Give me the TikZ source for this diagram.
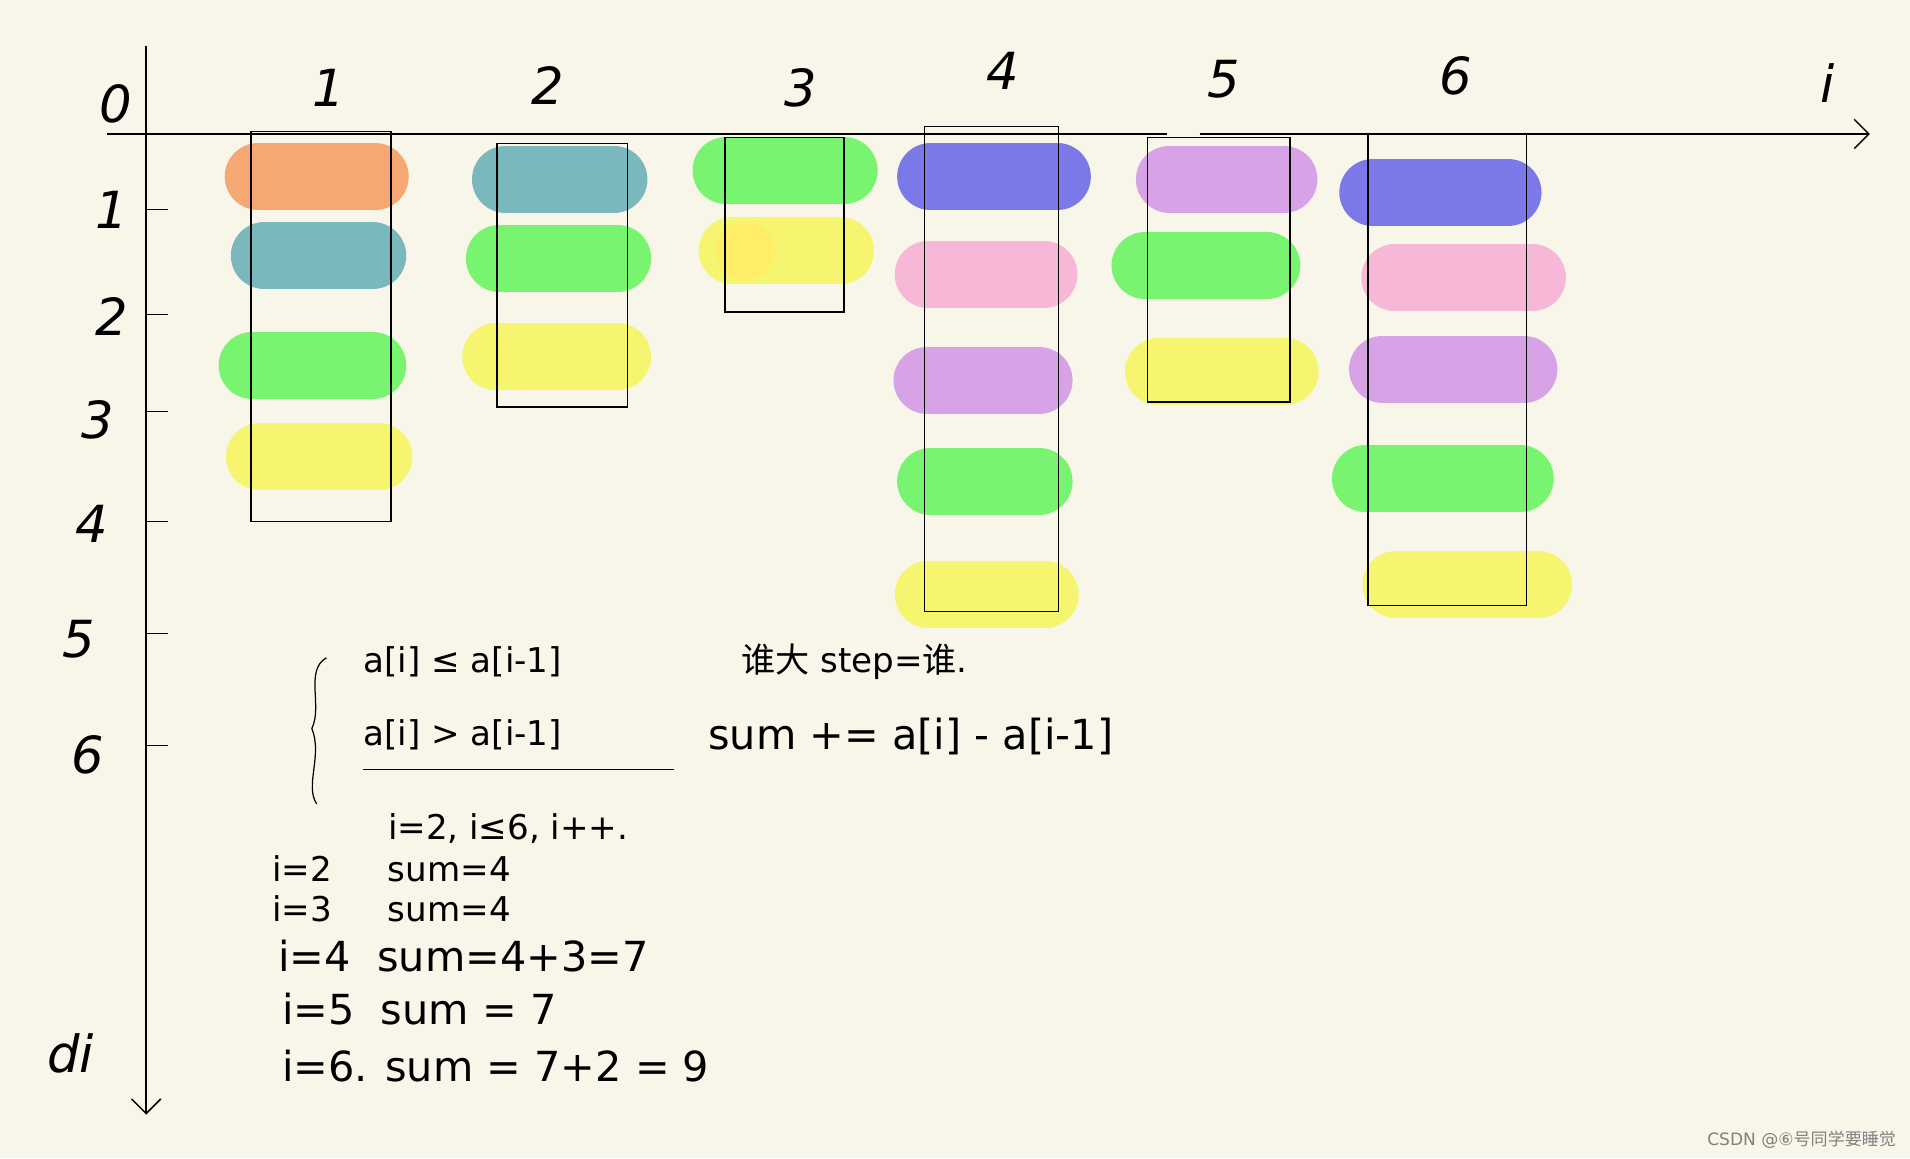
\documentclass[tikz,border=0pt]{standalone}
\usepackage{fontspec}
\setmainfont{DejaVu Sans}
\newfontfamily\cjk{Noto Sans CJK SC}
\usetikzlibrary{arrows.meta}
\definecolor{bg}{HTML}{F8F6E9}
\definecolor{cOr}{HTML}{F6A872}
\definecolor{cTe}{HTML}{7BB8BE}
\definecolor{cGr}{HTML}{78F470}
\definecolor{cYe}{HTML}{F6F56F}
\definecolor{cBl}{HTML}{7B78E8}
\definecolor{cPi}{HTML}{F6B8D6}
\definecolor{cPu}{HTML}{D8A3E6}
\tikzset{blob/.style={line width=55pt,line cap=round},
 col/.style={draw=black,line width=1.2pt},
 ax/.style={line width=1.2pt},
 lab/.style={font=\fontsize{42}{42}\selectfont\itshape},
 txt/.style={font=\fontsize{28}{30}\selectfont,anchor=west},
 big/.style={font=\fontsize{34}{36}\selectfont,anchor=west}}
\begin{document}
\begin{tikzpicture}[x=1pt,y=-1pt]
\fill[bg] (0,0) rectangle (1568,951);
\useasboundingbox (0,0) rectangle (1568,951);
% blobs
\foreach \a/\b/\y/\c in {
 212/308/145/cOr, 217/306/210/cTe, 207/306/300/cGr, 213/311/375/cYe,
 415/504/147/cTe, 410/507/212/cGr, 407/507/293/cYe,
 596/693/140/cGr, 601/690/206/cYe,
 764/868/145/cBl, 762/857/225/cPi, 761/853/312/cPu, 764/853/395/cGr, 762/858/488/cYe,
 960/1054/147/cPu, 940/1040/218/cGr, 951/1055/305/cYe,
 1127/1238/158/cBl, 1145/1258/228/cPi, 1135/1251/303/cPu, 1121/1248/393/cGr, 1146/1263/480/cYe}
 \draw[blob,\c] (\a,\y) -- (\b,\y);
\fill[yellow!85!orange!60] (612,206) circle (24);
% boxes
\draw[col] (206,108) rectangle (321,428);
\draw[col] (408,118) rectangle (515,334);
\draw[col] (595,113) rectangle (693,256);
\draw[col] (759,104) rectangle (869,502);
\draw[col] (942,113) rectangle (1059,330);
\draw[col] (1123,110) rectangle (1253,497);
% axes
\coordinate (h0) at (88,110); \coordinate (h1) at (958,110);
\coordinate (h2) at (985,110); \coordinate (h3) at (1535,110);
\coordinate (v0) at (120,38); \coordinate (v1) at (120,915);
\draw[ax] (h0) -- (h1);
\draw[ax,-{Straight Barb[length=12pt,width=24pt]}] (h2) -- (h3);
\draw[ax,-{Straight Barb[length=12pt,width=24pt]}] (v0) -- (v1);
\foreach \y in {172,258,338,428,520,612} \draw[ax] (120,\y) -- (138,\y);
% labels
\foreach \x/\y/\t in {95/85/0,270/72/1,450/70/2,657/72/3,823/58/4,1005/65/5,1195/62/6,1500/68/i,
 92/172/1,92/260/2,80/345/3,75/430/4,65/525/5,72/620/6,58/865/di}
 \node[lab] (l\x\y) at (\x,\y) {\t};
% brace
\draw[line width=1pt] (268,540) .. controls (250,550) and (265,580) .. (256,598) .. controls (265,620) and (250,645) .. (260,660);
\node[txt] (t1) at (295,543) {a[i] ≤ a[i-1]};
\node[txt] (t2) at (605,543) {{\cjk 谁大} step={\cjk 谁}.};
\node[txt] (t3) at (295,603) {a[i] > a[i-1]};
\draw[line width=1pt] (298,632) -- (553,632);
\node[big] (t4) at (578,605) {sum += a[i] - a[i-1]};
\node[txt] (t5) at (315,680) {i=2, i≤6, i++.};
\node[txt] (s1) at (220,713) {i=2 \quad\ sum=4};
\node[txt] (s2) at (220,746) {i=3 \quad\ sum=4};
\node[big] (s3) at (225,785) {i=4 \ sum=4+3=7};
\node[big] (s4) at (228,828) {i=5 \ sum = 7};
\node[big] (s5) at (228,875) {i=6. sum = 7+2 = 9};
\node[font=\fontsize{14}{14}\selectfont,text=gray,anchor=east] (wm) at (1560,936) {CSDN @⑥{\cjk 号同学要睡觉}};
\end{tikzpicture}
\end{document}
